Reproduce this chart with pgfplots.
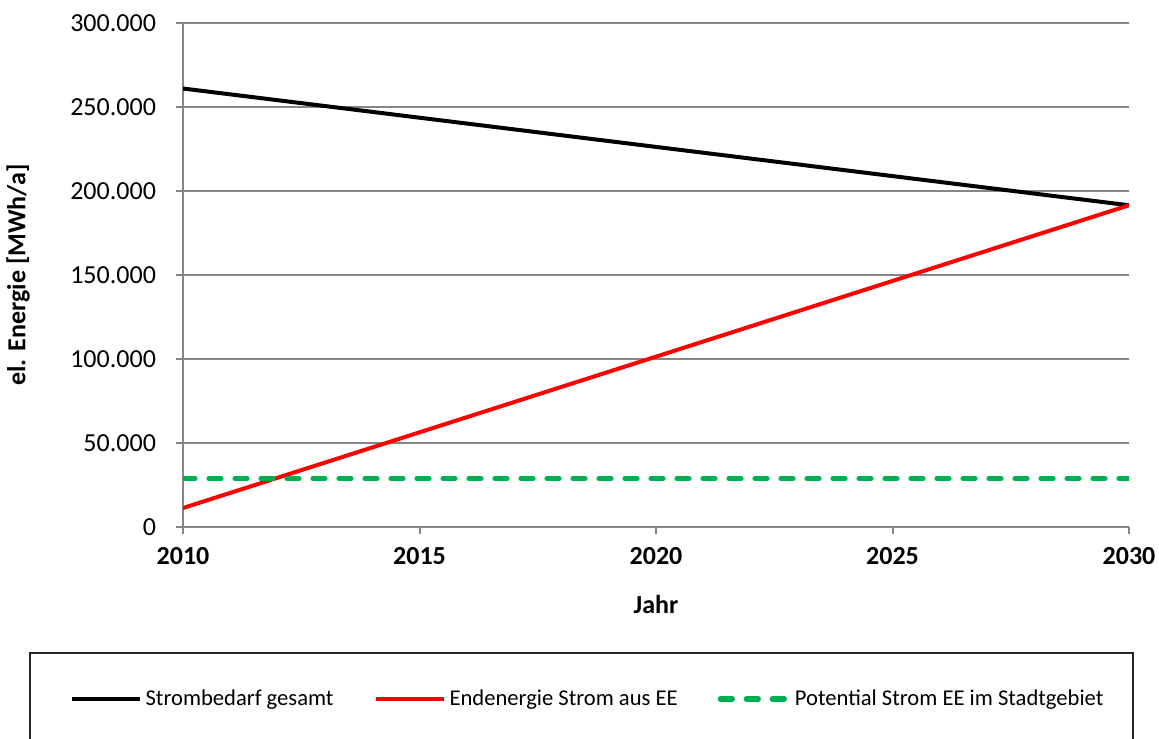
\documentclass[border=0pt]{standalone}
\usepackage{fontspec}
\setmainfont{Carlito}
\usepackage{pgfplots}
\pgfplotsset{compat=1.18}

\definecolor{gridgray}{HTML}{868686}
\definecolor{eegreen}{HTML}{00B050}

\begin{document}
\begin{tikzpicture}
\useasboundingbox (0,0) rectangle (579.5pt,369pt);
% frame around the legend (runs past the lower edge)
\draw[black!85, line width=0.9pt] (15pt,-5pt) rectangle (566.5pt,42.5pt);
\begin{axis}[
  at={(91.5pt,105.5pt)}, anchor=south west,
  scale only axis, width=473pt, height=252pt,
  xmin=2010, xmax=2030, ymin=0, ymax=300000,
  axis lines*=left,
  axis line style={gridgray, line width=1pt, -},
  xtick={2010,2015,...,2030},
  ytick={0,50000,...,300000},
  tick align=outside,
  major tick length=3.5pt,
  tick style={gridgray, line width=1pt},
  ymajorgrids,
  grid style={gridgray, line width=1pt},
  scaled y ticks=false,
  yticklabel style={font=\fontsize{13}{15}\selectfont, xshift=-6.5pt,
    /pgf/number format/.cd, fixed, 1000 sep={.}, assume math mode=true},
  xticklabel style={font=\fontsize{13}{15}\selectfont\bfseries, yshift=-3pt,
    /pgf/number format/.cd, 1000 sep={}, assume math mode=true},
  xlabel={Jahr},
  ylabel={el. Energie [MWh/a]},
  every axis x label/.style={at={(axis description cs:0.5,-0.153)}, anchor=center,
    font=\fontsize{13}{15}\selectfont\bfseries},
  every axis y label/.style={at={(axis description cs:-0.1744,0.5)}, anchor=center,
    rotate=90, font=\fontsize{13}{15}\selectfont\bfseries},
  legend columns=3,
  legend style={at={(axis description cs:0.4287,-0.3413)}, anchor=center,
    draw=none, fill=none, font=\fontsize{11.3}{13}\selectfont,
    /tikz/every even column/.append style={column sep=18pt}},
  legend cell align=left,
  legend image code/.code={\draw[#1] (0pt,0pt) -- (34pt,0pt);},
]
\addplot[black, line width=2pt] coordinates {(2010,261000) (2030,191500)};
\addlegendentry{Strombedarf gesamt}
\addplot[red, line width=2pt] coordinates {(2010,11300) (2030,191500)};
\addlegendentry{Endenergie Strom aus EE}
\addplot[eegreen, line width=2.6pt, line cap=round, dash pattern=on 6pt off 7pt]
  coordinates {(2010,28800) (2030,28800)};
\addlegendentry{Potential Strom EE im Stadtgebiet}
\end{axis}
\end{tikzpicture}
\end{document}
